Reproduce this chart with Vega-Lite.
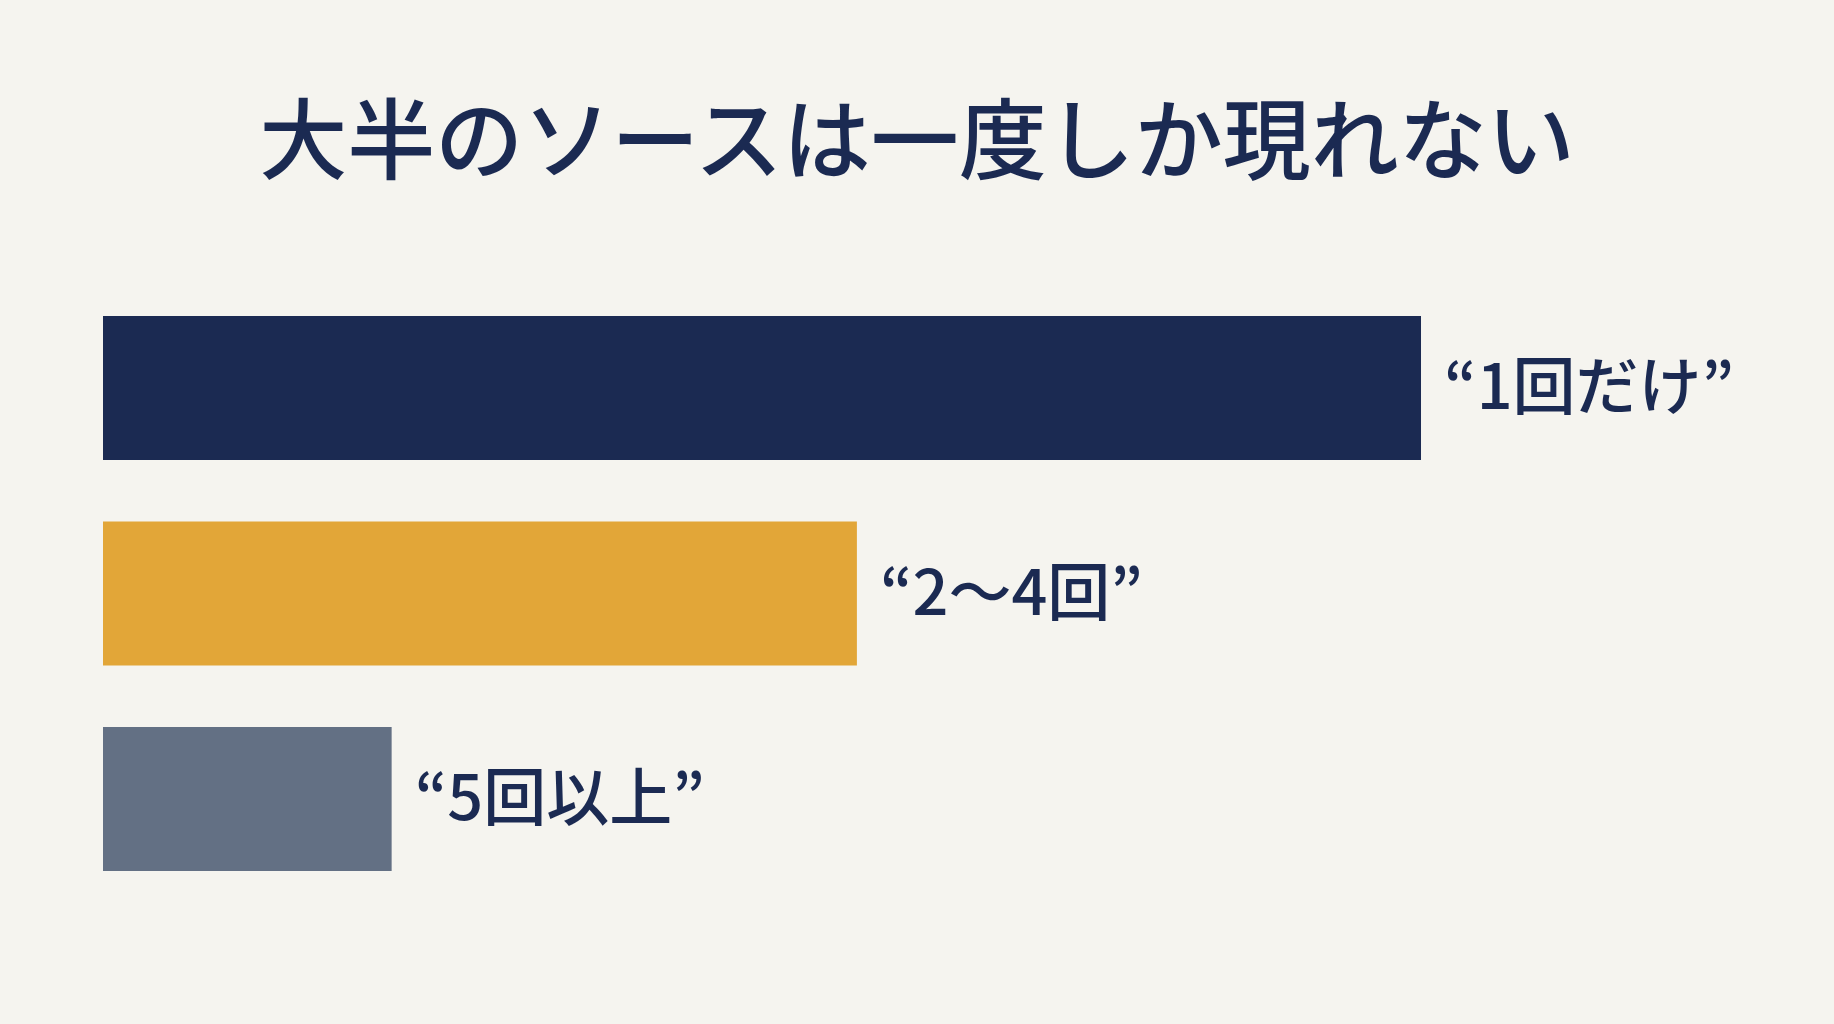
{
  "$schema": "https://vega.github.io/schema/vega-lite/v6.json",
  "autosize": {"type": "none"},
  "width": 1628,
  "height": 555,
  "padding": {"left": 103, "right": 103, "top": 316, "bottom": 153},
  "background": "#f5f4ef",
  "config": {"view": {"stroke": null}},
  "title": {
    "text": "大半のソースは一度しか現れない",
    "font": "Noto Sans CJK JP",
    "fontSize": 88,
    "fontWeight": 500,
    "color": "#1b2a52",
    "anchor": "middle",
    "offset": 126
  },
  "data": {
    "values": [
      {"category": "1回だけ", "label": "“1回だけ”", "value": 100},
      {"category": "2〜4回", "label": "“2〜4回”", "value": 57.2},
      {"category": "5回以上", "label": "“5回以上”", "value": 21.9}
    ]
  },
  "encoding": {
    "y": {
      "field": "category",
      "type": "nominal",
      "sort": null,
      "axis": null,
      "scale": {"paddingInner": 0.3, "paddingOuter": 0}
    },
    "x": {
      "field": "value",
      "type": "quantitative",
      "axis": null,
      "scale": {"domain": [0, 123.52], "nice": false, "zero": true}
    }
  },
  "layer": [
    {
      "mark": {"type": "bar", "cornerRadius": 0},
      "encoding": {
        "color": {
          "field": "category",
          "type": "nominal",
          "legend": null,
          "scale": {
            "domain": ["1回だけ", "2〜4回", "5回以上"],
            "range": ["#1b2a52", "#e2a638", "#637084"]
          }
        }
      }
    },
    {
      "mark": {
        "type": "text",
        "align": "left",
        "baseline": "middle",
        "dx": 23,
        "dy": 2,
        "font": "Noto Sans CJK JP",
        "fontSize": 63,
        "fontWeight": 500,
        "color": "#1b2a52"
      },
      "encoding": {"text": {"field": "label"}}
    }
  ]
}
